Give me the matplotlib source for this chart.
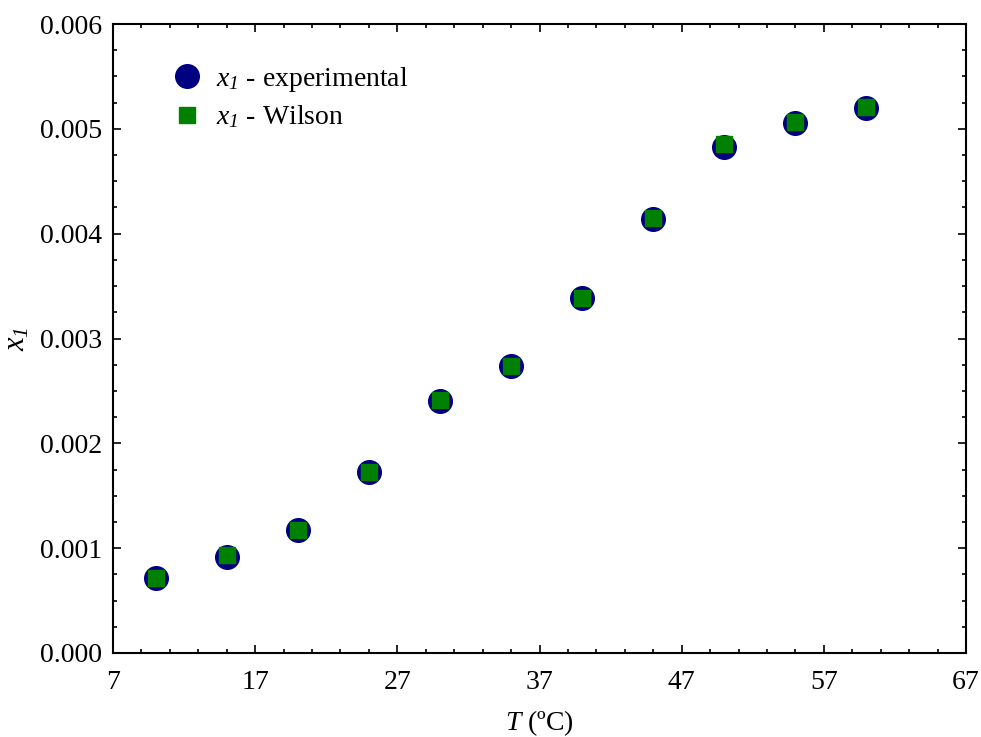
import numpy as np
import matplotlib.pyplot as plt
from matplotlib.ticker import FixedLocator, MultipleLocator, FormatStrFormatter

# datos
temperatura = [10, 15, 20, 25, 30, 35, 40, 45, 50, 55, 60]
x1_experimental = [0.00072, 0.00092, 0.00117, 0.00173, 0.00240, 0.00274,
                   0.00339, 0.00414, 0.00483, 0.00506, 0.00520]
x1_wilson = [0.00072, 0.00093, 0.00117, 0.00173, 0.00241, 0.00274,
             0.00339, 0.00415, 0.00486, 0.00507, 0.00521]
ticks_x = [7, 17, 27, 37, 47, 57, 67]

plt.rcParams['font.family'] = 'Liberation Serif'
# todo lo matematico en cursiva (tambien el subindice 1)
plt.rcParams['mathtext.fontset'] = 'custom'
plt.rcParams['mathtext.rm'] = 'Liberation Serif:italic'
plt.rcParams['mathtext.it'] = 'Liberation Serif:italic'
plt.rcParams['font.size'] = 20

fig = plt.figure(figsize=(9.81, 7.37), dpi=100)
ax = fig.add_axes([0.1152, 0.114, 0.8695, 0.8534])

ax.plot(temperatura, x1_experimental, 'o', color='#000080', markersize=17,
        label=r'$x_{1}$ - experimental')
ax.plot(temperatura, x1_wilson, 's', color='#008000', markersize=12,
        label=r'$x_{1}$ - Wilson')

ax.set_xlim(7, 67)
ax.set_ylim(0, 0.006)
ax.xaxis.set_major_locator(FixedLocator(ticks_x))
ax.xaxis.set_minor_locator(FixedLocator(np.arange(7, 67, 2)))
ax.yaxis.set_major_locator(MultipleLocator(0.001))
ax.yaxis.set_minor_locator(MultipleLocator(0.00025))
ax.yaxis.set_major_formatter(FormatStrFormatter('%.3f'))

ax.tick_params(which='both', direction='in', top=True, right=True, width=1.2)
ax.tick_params(which='major', length=6)
ax.tick_params(which='major', axis='x', pad=12)
ax.tick_params(which='major', axis='y', pad=8)
ax.tick_params(which='minor', length=3)
for s in ax.spines.values():
    s.set_linewidth(1.5)

ax.set_xlabel(r'$T$ (ºC)', fontsize=20, labelpad=10)
ax.set_ylabel(r'$x_{1}$', fontsize=22, labelpad=6)

ax.legend(loc='upper left', frameon=False, fontsize=20, handletextpad=0.3,
          borderaxespad=0, labelspacing=0.35, handlelength=1.5,
          bbox_to_anchor=(0.049, 0.953))

plt.savefig('out.png', dpi=100)
